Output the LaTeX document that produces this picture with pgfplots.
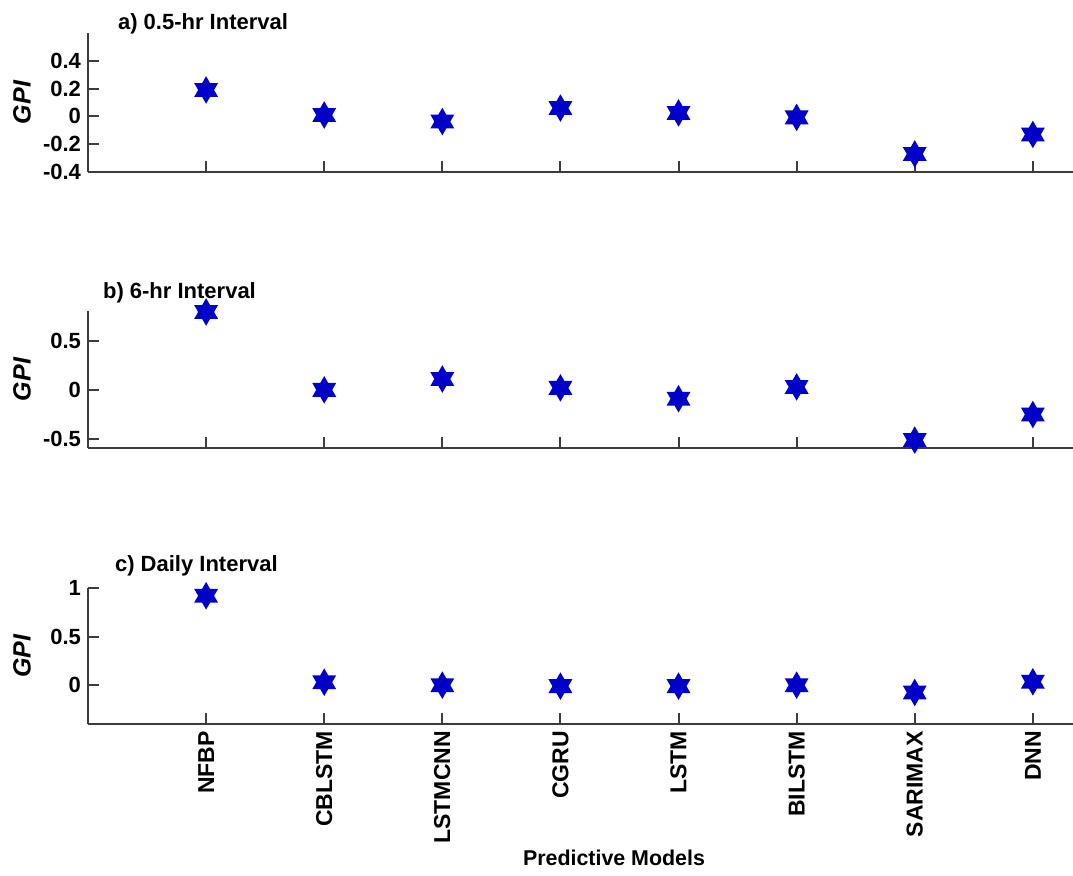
\documentclass[border=0pt]{standalone}
\usepackage{fontspec}
\setmainfont{Liberation Sans}
\usepackage{pgfplots}
\pgfplotsset{compat=1.18}
\definecolor{starblue}{RGB}{0,0,200}
\definecolor{axgray}{RGB}{60,60,60}

\pgfdeclareplotmark{hexstar}{%
  \pgfpathmoveto{\pgfqpointpolar{90}{\pgfplotmarksize}}%
  \pgfpathlineto{\pgfqpointpolar{210}{\pgfplotmarksize}}%
  \pgfpathlineto{\pgfqpointpolar{330}{\pgfplotmarksize}}%
  \pgfpathclose
  \pgfpathmoveto{\pgfqpointpolar{270}{\pgfplotmarksize}}%
  \pgfpathlineto{\pgfqpointpolar{30}{\pgfplotmarksize}}%
  \pgfpathlineto{\pgfqpointpolar{150}{\pgfplotmarksize}}%
  \pgfpathclose
  \pgfusepathqfill}

\pgfplotsset{
  gpi/.style={
    scale only axis, width=492.5pt,
    xmin=0, xmax=8.34,
    axis lines=left,
    axis line style={axgray, line width=1pt, -},
    tick align=inside, major tick length=5.5pt,
    tick style={axgray, line width=1pt},
    xtick={1,2,3,4,5,6,7,8},
    xticklabels={},
    clip=false,
    /pgf/number format/assume math mode=true,
    ticklabel style={font=\bfseries\fontsize{11}{13}\selectfont, text=black},
    ylabel={\bfseries\itshape GPI},
    every axis y label/.style={at={(axis description cs:-0.067,0.5)}, anchor=center, rotate=90,
      font=\fontsize{12.5}{14}\selectfont},
    every axis title shift=0pt,
    title style={font=\bfseries\fontsize{11}{13}\selectfont, anchor=base west},
  },
  star/.style={only marks, mark=hexstar, mark size=6.9pt, color=starblue},
}

\begin{document}
\begin{tikzpicture}
\path[use as bounding box] (0,0) rectangle (536.5pt,-437.5pt);

% a) 0.5-hr
\begin{axis}[gpi, at={(44pt,-86pt)}, anchor=south west, height=69.5pt,
  ymin=-0.4, ymax=0.6, ytick={-0.4,-0.2,0,0.2,0.4},
  title={a) 0.5-hr Interval},
  title style={at={(axis description cs:0,1)}, xshift=11.5pt, yshift=2pt}]
\addplot[star] coordinates {(1,0.19) (2,0.01) (3,-0.037) (4,0.06) (5,0.025) (6,-0.007) (7,-0.27) (8,-0.13)};
\end{axis}

% b) 6-hr
\begin{axis}[gpi, at={(44pt,-224pt)}, anchor=south west, height=68.5pt,
  ymin=-0.59, ymax=0.8, ytick={-0.5,0,0.5},
  title={b) 6-hr Interval},
  title style={at={(axis description cs:0,1)}, xshift=4pt, yshift=6.5pt}]
\addplot[star] coordinates {(1,0.79) (2,0.0) (3,0.11) (4,0.02) (5,-0.09) (6,0.03) (7,-0.51) (8,-0.25)};
\end{axis}

% c) Daily
\begin{axis}[gpi, at={(44pt,-362pt)}, anchor=south west, height=68pt,
  ymin=-0.4, ymax=1.0, ytick={0,0.5,1},
  title={c) Daily Interval},
  title style={at={(axis description cs:0,1)}, xshift=10pt, yshift=8.5pt},
  xticklabels={NFBP,CBLSTM,LSTMCNN,CGRU,LSTM,BILSTM,SARIMAX,DNN},
  xticklabel style={rotate=90, anchor=east, font=\bfseries\fontsize{11.5}{13}\selectfont},
  xlabel={\bfseries Predictive Models},
  every axis x label/.style={at={(axis description cs:0.534,0)}, anchor=center, yshift=-67pt,
    font=\fontsize{10.7}{13}\selectfont}]
\addplot[star] coordinates {(1,0.92) (2,0.03) (3,0.0) (4,-0.01) (5,-0.01) (6,0.0) (7,-0.075) (8,0.035)};
\end{axis}
\end{tikzpicture}
\end{document}
